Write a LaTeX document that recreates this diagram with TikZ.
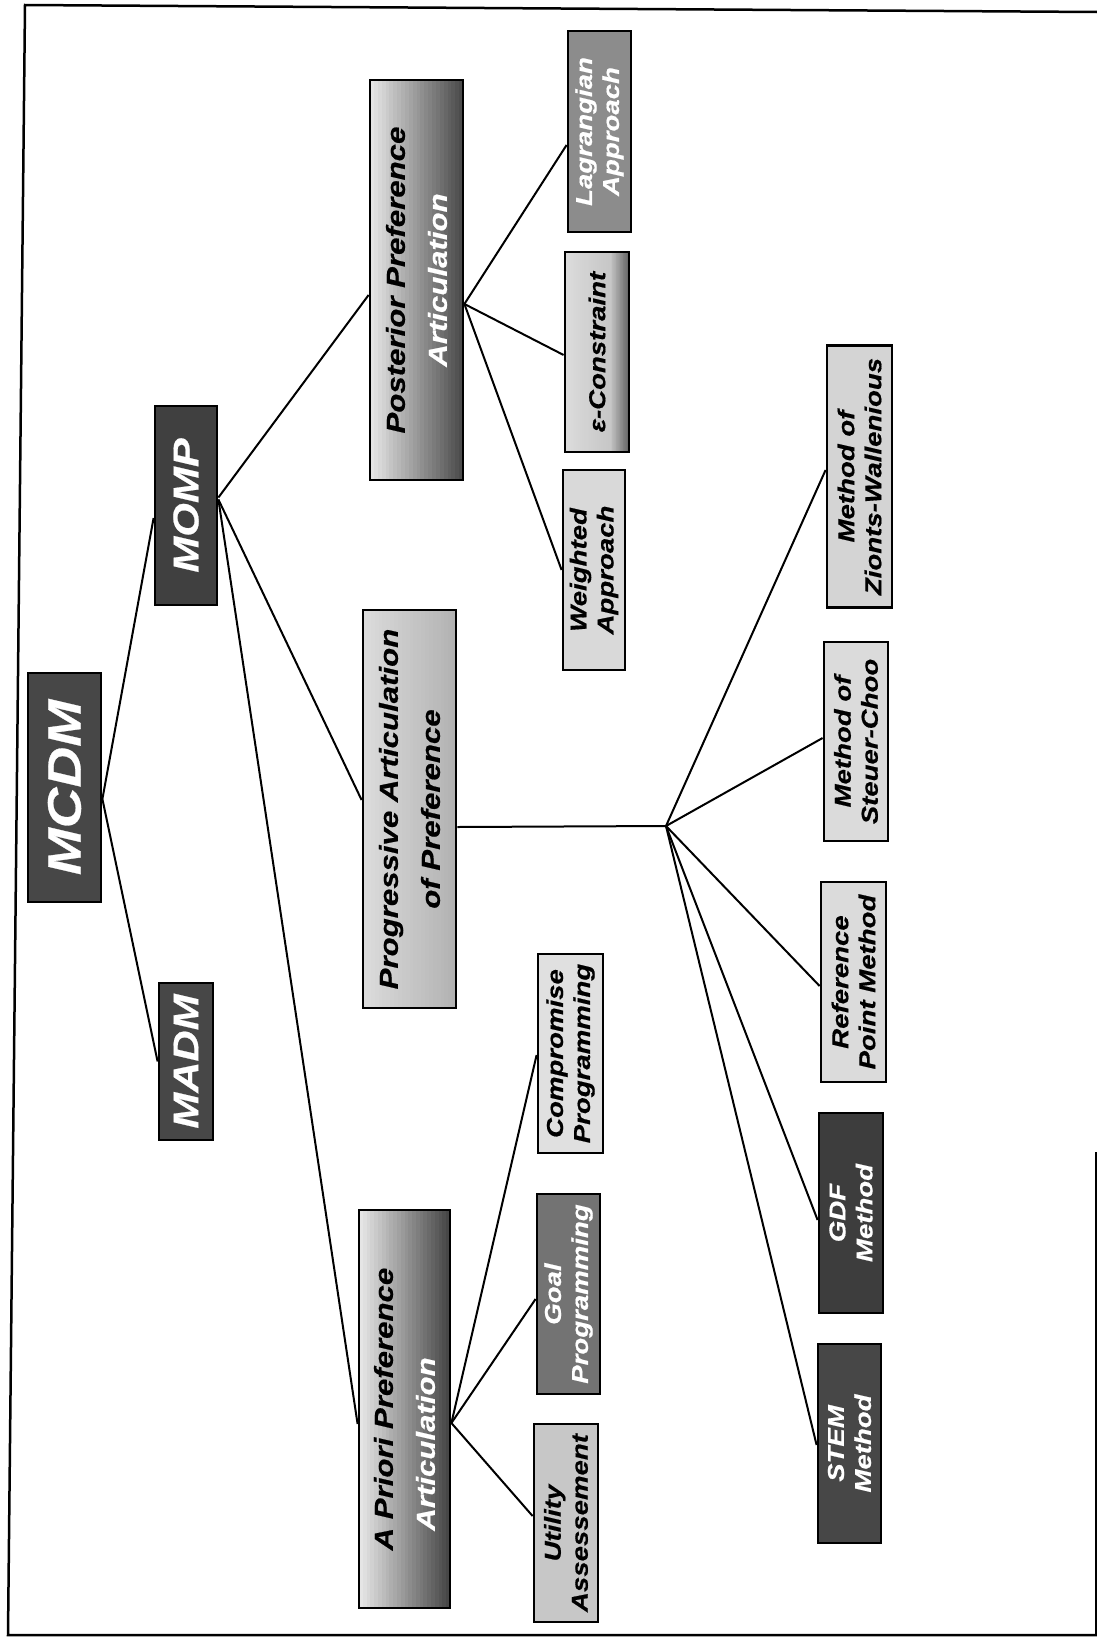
\documentclass[tikz,border=0pt]{standalone}
\usepackage{fontspec}
\newfontfamily\bx[FakeStretch=1.2, FakeBold=0.6]{Liberation Sans}
\usetikzlibrary{calc,backgrounds}
% horizontal grey ramp: x1,y1,x2,y2,start black %,end black %
\newcommand\hramp[6]{%
  \foreach \i in {0,...,23}{%
    \pgfmathsetmacro\xa{#1+(#3-#1)*\i/24}%
    \pgfmathsetmacro\xb{#1+(#3-#1)*(\i+1)/24+0.6}%
    \pgfmathsetmacro\cc{#5+(#6-#5)*\i/23}%
    \fill[black!\cc] (\xa,#2) rectangle (\xb,#4);
  }}
\begin{document}
\begin{tikzpicture}[x=1pt,y=-1pt,
  box/.style={draw=black, line width=2.8pt, rotate=90, inner sep=0pt, align=center,
    font=\bx\bfseries\itshape\fontsize{23}{27}\selectfont},
  big/.style={font=\bx\bfseries\itshape\fontsize{26}{42}\selectfont},
  dark/.style={fill=black!72, text=white},
  conn/.style={line width=2pt},
  frame/.style={line width=2.5pt}
]
\useasboundingbox (0,0) rectangle (1097,1638);
% frame
\draw[frame] (1097,12) -- (25,5) -- (8,1635) -- (1097,1635);
\draw[frame] (1096,1152) -- (1096,1635);

% graded fills of the large boxes, light on the left, dark on the right
\hramp{370}{80}{463}{480}{10}{70}
\hramp{363}{610}{456}{1008}{14}{30}
\hramp{359}{1210}{450}{1608}{10}{72}
\hramp{565}{252}{610}{452}{14}{22}
\hramp{610}{252}{629}{452}{22}{60}

% level 0 and 1
\node[box, dark, font=\bx\bfseries\itshape\fontsize{47}{50}\selectfont,
  minimum width=229pt, minimum height=73pt] (mcdm) at (64.5,787.5) {MCDM};
\node[box, dark, font=\bx\bfseries\itshape\fontsize{36}{40}\selectfont,
  minimum width=157pt, minimum height=54pt] (madm) at (186,1061.5) {MADM};
\node[box, dark, fill=black!75, font=\bx\bfseries\itshape\fontsize{36}{40}\selectfont,
  minimum width=199pt, minimum height=62pt] (momp) at (186,505.5) {MOMP};

% level 2
\node[box, big, minimum width=400pt, minimum height=93pt] (post) at (416.5,280)
  {Posterior Preference\\\textcolor{white}{Articulation}};
\node[box, big, minimum width=398pt, minimum height=93pt] (prog) at (409.5,809)
  {Progressive Articulation\\of Preference};
\node[box, big, minimum width=398pt, minimum height=91pt] (apri) at (404.5,1409)
  {A Priori Preference\\\textcolor{white}{Articulation}\hspace*{70pt}};

% posterior children
\node[box, fill=black!15, minimum width=200pt, minimum height=62pt] (wght) at (594,570)
  {Weighted\\Approach};
\node[box, minimum width=200pt, minimum height=64pt] (ecns) at (597,352)
  {ε-Constraint};
\node[box, fill=black!45, text=white, minimum width=201pt, minimum height=63pt] (lagr) at (599.5,131.5)
  {Lagrangian\\Approach};

% a priori children
\node[box, fill=black!22, minimum width=198pt, minimum height=64pt] (util) at (566,1523)
  {Utility\\Assessement};
\node[box, fill=black!55, text=white, minimum width=200pt, minimum height=63pt] (goal) at (568.5,1294)
  {Goal\\Programming};
\node[box, fill=black!12, minimum width=199pt, minimum height=65pt] (comp) at (570.5,1053.5)
  {Compromise\\Programming};

% progressive children
\node[box, dark, minimum width=199pt, minimum height=63pt] (stem) at (849.5,1443.5)
  {STEM\\Method};
\node[box, dark, fill=black!76, minimum width=200pt, minimum height=64pt] (gdf) at (851,1213)
  {GDF\\Method};
\node[box, fill=black!14, minimum width=200pt, minimum height=65pt] (refp) at (853.5,982)
  {Reference\\Point Method};
\node[box, fill=black!14, minimum width=199pt, minimum height=64pt] (steu) at (856,741.5)
  {Method of\\Steuer-Choo};
\node[box, fill=black!17, minimum width=262pt, minimum height=65pt] (zion) at (859.5,476.5)
  {Method of\\Zionts-Wallenious};

\coordinate (hub) at (666,826);

% connectors
\draw[conn] ($(mcdm.south)+(0,11.5)$) -- ($(momp.north)+(0,12.5)$);
\draw[conn] ($(mcdm.south)+(0,11.5)$) -- (madm.north);
\draw[conn] ($(momp.south)+(0,-8)$) -- ($(post.north)+(0,15)$);
\draw[conn] ($(momp.south)+(0,-6)$) -- ($(prog.north)+(0,-9)$);
\draw[conn] ($(momp.south)+(0,-6)$) -- ($(apri.north)+(0,15)$);
\draw[conn] ($(post.south)+(0,24)$) -- ($(lagr.north)+(0,13.5)$);
\draw[conn] ($(post.south)+(0,24)$) -- ($(ecns.north)+(0,3)$);
\draw[conn] ($(post.south)+(0,24)$) -- (wght.north);
\draw[conn] ($(prog.south)+(0,18)$) -- (hub);
\draw[conn] (hub) -- ($(zion.north)+(0,-6.5)$);
\draw[conn] (hub) -- ($(steu.north)+(0,-3.5)$);
\draw[conn] (hub) -- ($(refp.north)+(0,4)$);
\draw[conn] (hub) -- ($(gdf.north)+(0,7)$);
\draw[conn] (hub) -- ($(stem.north)+(0,1.5)$);
\draw[conn] ($(apri.south)+(0,14)$) -- ($(comp.north)+(0,1.5)$);
\draw[conn] ($(apri.south)+(0,14)$) -- ($(goal.north)+(0,5)$);
\draw[conn] ($(apri.south)+(0,14)$) -- ($(util.north)+(0,-7)$);
\end{tikzpicture}
\end{document}
